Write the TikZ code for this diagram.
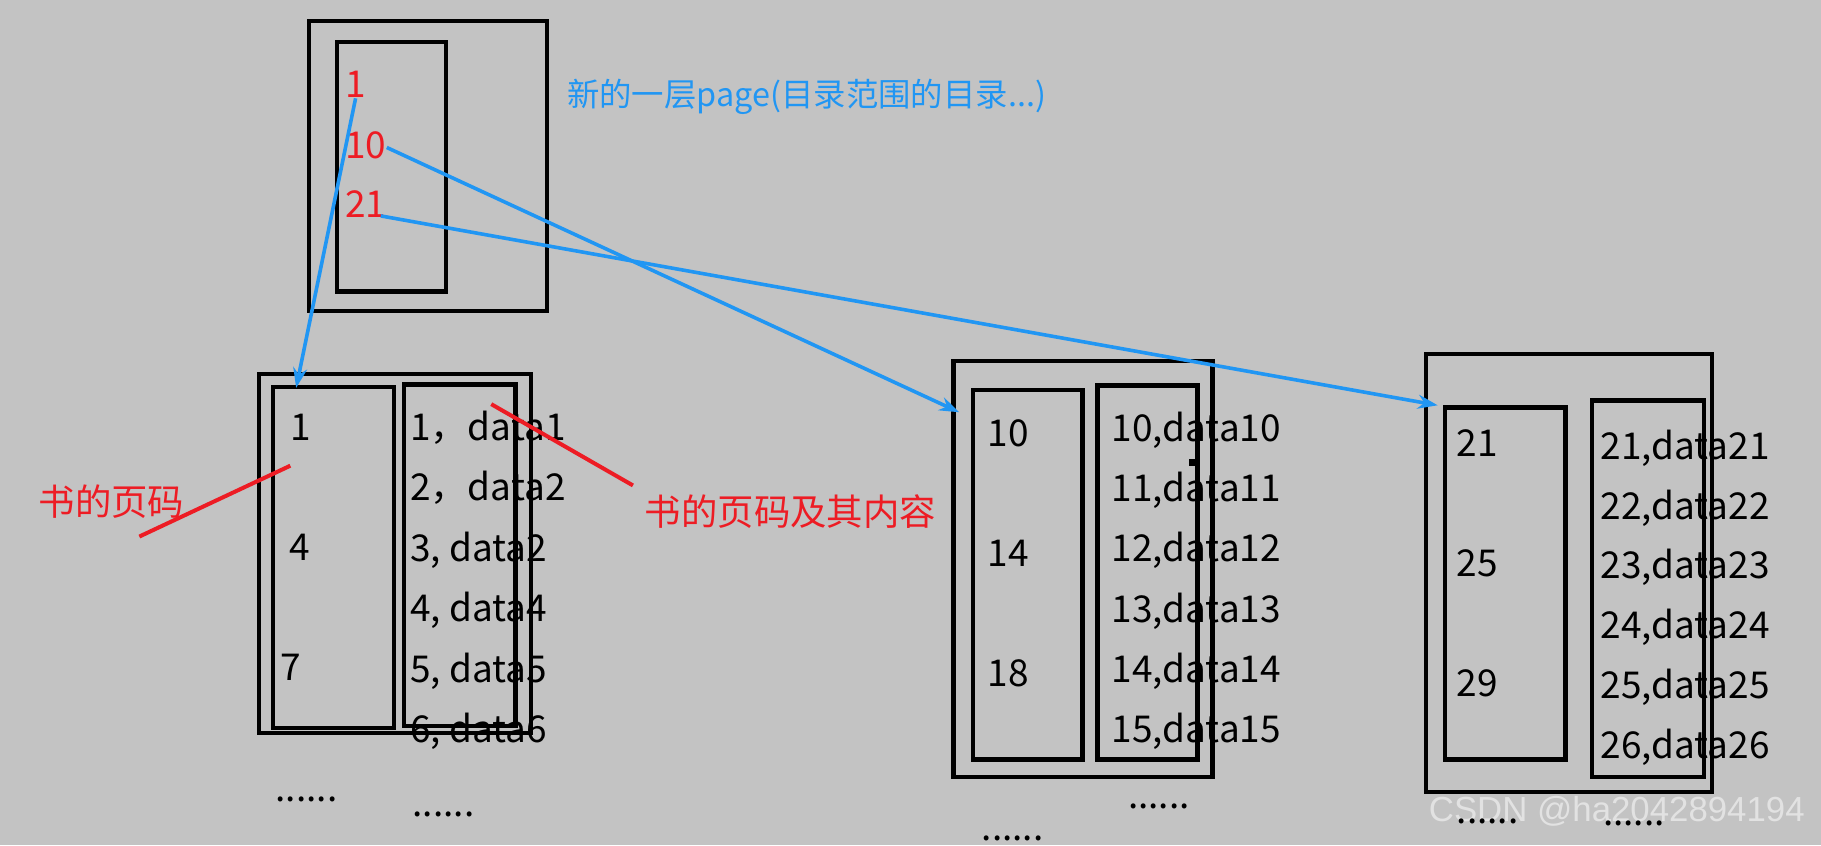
\documentclass[tikz,border=0pt]{standalone}
\usepackage{fontspec}
\setmainfont{Noto Sans CJK SC}
\newfontfamily\wmfont{Liberation Sans}
\usepackage{tikz}
\usetikzlibrary{arrows.meta, positioning, fit}
\definecolor{bggray}{RGB}{195,195,195}
\definecolor{ptrblue}{RGB}{33,150,243}
\definecolor{markred}{RGB}{237,28,36}
\definecolor{wmgray}{RGB}{226,226,226}

\begin{document}
\begin{tikzpicture}[
    x=0.5807pt, y=-0.5807pt,
    font=\fontsize{18.5}{22}\selectfont,
    box/.style={draw=black, line width=2.2pt, inner sep=0pt, fit={#1}},
    txt/.style={anchor=west, inner sep=0pt, text height=1.08em, text depth=0pt},
    num/.style={txt, text=markred},
    dots/.style={anchor=base west, inner sep=0pt},
    ptr/.style={-{Stealth[length=10pt, width=7pt]}, draw=ptrblue, line width=1.8pt},
    redline/.style={draw=markred, line width=2pt},
    lbl/.style={txt, font=\fontsize{18.2}{21}\selectfont, text=#1}
  ]
  \useasboundingbox[fill=bggray] (0,0) rectangle (1568,728);

  % top page: directory of directories
  \node[box={(266,18) (471,268)}]  (topout) {};
  \node[box={(290,36) (384,251)}]  (topin)  {};
  \node[num] (r1)  at (297,75)  {1};
  \node[num] (r10) at (297,127) {10};
  \node[num] (r21) at (297,178) {21};
  \node[lbl=ptrblue, font=\fontsize{16.2}{20}\selectfont] (title) at (488,82)
    {新的一层page(目录范围的目录...)};

  % leaf page 1
  \node[box={(223,322) (457,631)}] (aout) {};
  \node[box={(235,333) (339,627)}] (adir) {};
  \node[box={(348,331) (444,625)}] (arec) {};
  \node[txt] (a1) at (250,370) {1};
  \node[txt] (a4) at (249,473) {4};
  \node[txt] (a7) at (241,577) {7};
  \foreach \t [count=\i from 0] in {1，data1, 2，data2, {3, data2},
                                    {4, data4}, {5, data5}, {6, data6}}
    \node[txt] (ar\i) at (353,370+52*\i) {\t};
  \node[dots] (adots1) at (237,690) {......};
  \node[dots] (adots2) at (355,703) {......};

  % leaf page 2
  \node[box={(821,311) (1044,669)}] (bout) {};
  \node[box={(838,336) (932,654)}]  (bdir) {};
  \node[box={(945,332) (1031,654)}] (brec) {};
  \foreach \n [count=\i from 0] in {10,14,18}
    \node[txt] (bl\i) at (850,375+103.5*\i) {\n};
  \foreach \n [count=\i from 0] in {10,11,12,13,14,15}
    \node[txt] (br\i) at (957,371+51.8*\i) {\n,data\n};
  \fill (1024,395) rectangle (1030,401);
  \node[dots] (bdots1) at (971,696) {......};
  \node[dots] (bdots2) at (845,724) {......};

  % leaf page 3
  \node[box={(1228,305) (1474,682)}] (cout) {};
  \node[box={(1244,351) (1348,654)}] (cdir) {};
  \node[box={(1371,345) (1467,669)}] (crec) {};
  \foreach \n [count=\i from 0] in {21,25,29}
    \node[txt] (cl\i) at (1254,384+103*\i) {\n};
  \foreach \n [count=\i from 0] in {21,22,23,24,25,26}
    \node[txt] (cr\i) at (1378,386+51.6*\i) {\n,data\n};

  % watermark
  \node[anchor=west, inner sep=0pt, text=wmgray, font=\wmfont\fontsize{17.4}{20}\selectfont]
    (wm) at (1230,699) {CSDN @ha2042894194};
  \node[dots] (cdots1) at (1254,709) {......};
  \node[dots] (cdots2) at (1380,711) {......};

  % pointers
  \coordinate (e1) at (255,334);
  \coordinate (e2) at (826,355);
  \coordinate (e3) at (1238,349);
  \draw[ptr] (r1.south) -- (e1);
  \draw[ptr] (r10.east) -- (e2);
  \draw[ptr] ([xshift=-3pt,yshift=1pt]r21.south east) -- (e3);

  % annotations
  \node[lbl=markred] (pgno)  at (33,435)  {书的页码};
  \node[lbl=markred] (pgrec) at (555,443) {书的页码及其内容};
  \coordinate (m1) at (120,462);
  \coordinate (m2) at (250,401);
  \coordinate (m3) at (423,348);
  \coordinate (m4) at (545,418);
  \draw[redline] (m1) -- (m2);
  \draw[redline] (m3) -- (m4);

\end{tikzpicture}
\end{document}
